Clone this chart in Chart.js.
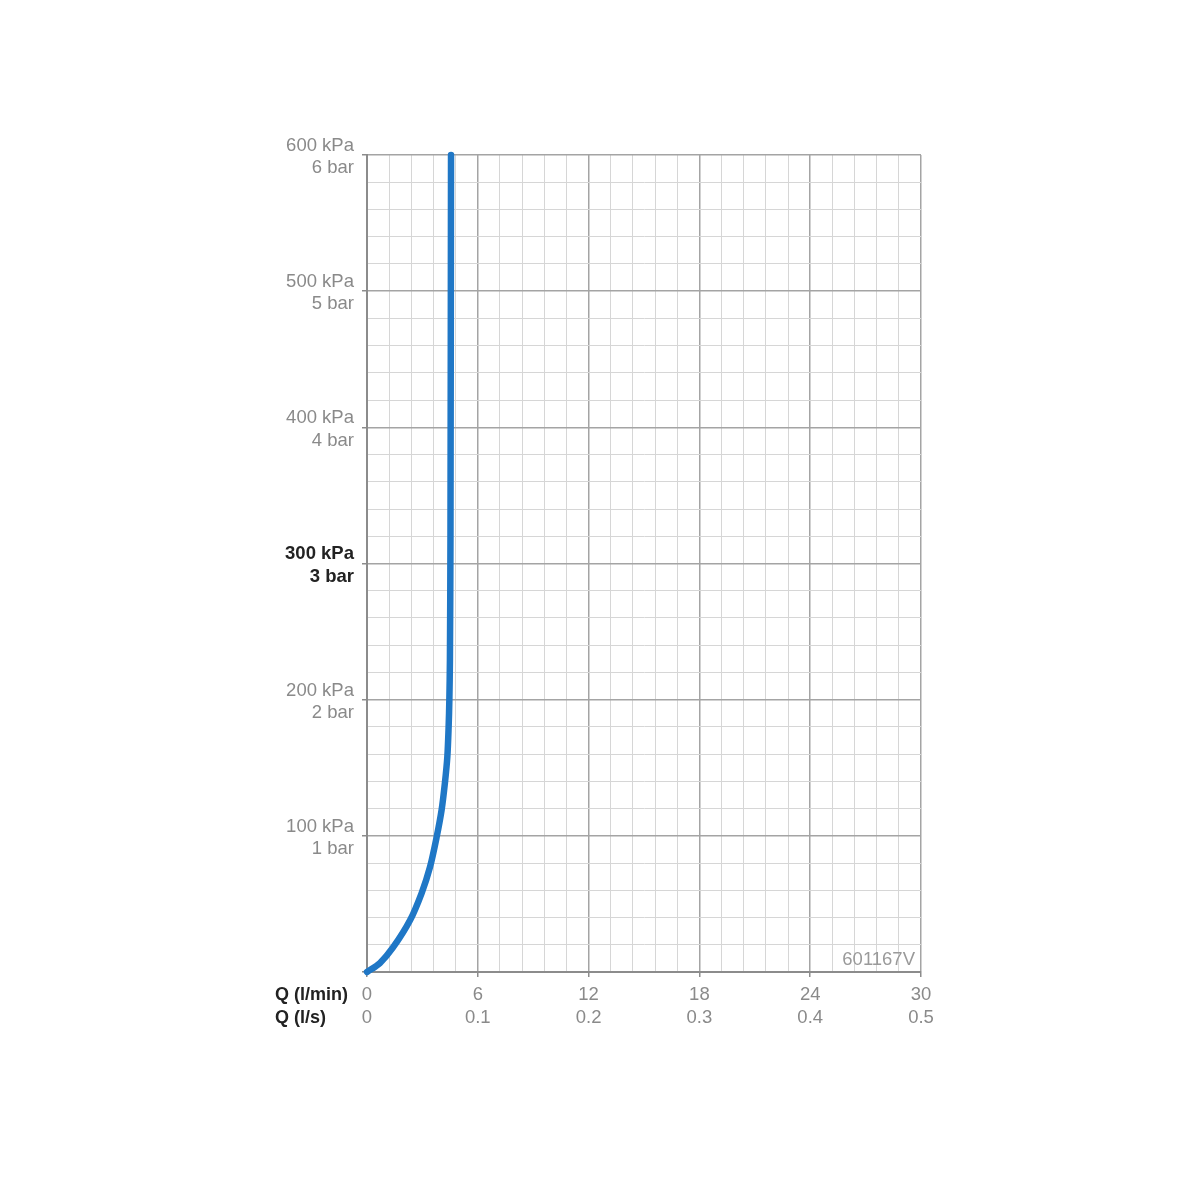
<!DOCTYPE html>
<html>
<head>
<meta charset="utf-8">
<script src="https://cdn.jsdelivr.net/npm/chart.js@4/dist/chart.umd.min.js"></script>
<style>
html,body{margin:0;padding:0;background:#fff;}
#wrap{width:1200px;height:1200px;}
</style>
</head>
<body>
<div id="wrap"><canvas id="c" width="1200" height="1200"></canvas></div>
<script>
// Flow curve: Q (l/min) vs pressure (kPa)
const flowLpm = [0, 0.7, 1.41, 2.33, 2.96, 3.41, 3.77, 4.04, 4.22, 4.35, 4.42, 4.46, 4.49, 4.52, 4.55];
const pressureKPa = [0, 6.6, 18, 38, 58, 77, 99, 119, 139, 158, 180, 200, 229, 320, 600];

// Axis ticks
const xMajorLpm = [0, 6, 12, 18, 24, 30];
const xMajorLps = ['0', '0.1', '0.2', '0.3', '0.4', '0.5'];
const xMinorDivisions = 5;
const yMajorKPa = [0, 100, 200, 300, 400, 500, 600];
const yMajorBar = ['0', '1', '2', '3', '4', '5', '6'];
const yMinorDivisions = 5;
const highlightKPa = 300;
const xAxisNames = ['Q (l/min)', 'Q (l/s)'];
const codeLabel = '601167V';

const FONT = '"Liberation Sans", Arial, sans-serif';
const eq = (a, b) => Math.abs(a - b) < 1e-6;

function buildTicks(majors, divs) {
  const out = [];
  for (let i = 0; i < majors.length - 1; i++) {
    const a = majors[i], b = majors[i + 1];
    for (let k = 0; k < divs; k++) out.push({value: Math.round((a + (b - a) * k / divs) * 1000) / 1000});
  }
  out.push({value: majors[majors.length - 1]});
  return out;
}
const tv = c => (c && c.tick) ? c.tick.value : NaN;
const isMajorX = c => xMajorLpm.some(m => eq(m, tv(c)));
const isMajorY = c => yMajorKPa.some(m => eq(m, tv(c)));

const extraText = {
  id: 'extraText',
  afterDraw(chart) {
    const ctx = chart.ctx, ca = chart.chartArea;
    ctx.save();
    ctx.font = 'bold 18px ' + FONT;
    ctx.fillStyle = '#222';
    ctx.textAlign = 'right';
    ctx.textBaseline = 'middle';
    ctx.fillText(xAxisNames[0], ca.left - 19, ca.bottom + 23);
    ctx.fillText(xAxisNames[1], ca.left - 41, ca.bottom + 46);
    ctx.font = '18.5px ' + FONT;
    ctx.fillStyle = '#9a9a9a';
    ctx.fillText(codeLabel, ca.right - 6, ca.bottom - 12);
    ctx.restore();
  }
};

new Chart(document.getElementById('c'), {
  type: 'line',
  data: {
    datasets: [{
      data: flowLpm.map((q, i) => ({x: q, y: pressureKPa[i]})),
      borderColor: '#1f77c6',
      borderWidth: 6.5,
      pointRadius: 0,
      tension: 0.3,
      borderCapStyle: 'round',
      fill: false,
      clip: false
    }]
  },
  options: {
    responsive: false,
    animation: false,
    events: [],
    layout: {padding: {top: 155, right: 279, left: 0, bottom: 0}},
    plugins: {legend: {display: false}, tooltip: {enabled: false}},
    scales: {
      x: {
        type: 'linear',
        min: 0, max: 30,
        afterFit: s => { s.height = 228; },
        afterBuildTicks: s => { s.ticks = buildTicks(xMajorLpm, xMinorDivisions); },
        border: {color: '#8c8c8c', width: 2},
        grid: {
          color: c => isMajorX(c) ? '#a4a4a4' : '#d6d6d6',
          lineWidth: c => isMajorX(c) ? 1.5 : 1,
          tickLength: 5,
          tickColor: c => isMajorX(c) ? '#8c8c8c' : 'rgba(0,0,0,0)'
        },
        ticks: {
          autoSkip: false,
          maxRotation: 0,
          padding: 6,
          color: '#8a8a8a',
          font: {family: FONT, size: 18.5, lineHeight: 1.25},
          callback: v => {
            const i = xMajorLpm.findIndex(m => eq(m, v));
            return i < 0 ? '' : [String(xMajorLpm[i]), xMajorLps[i]];
          }
        }
      },
      y: {
        type: 'linear',
        min: 0, max: 600,
        afterFit: s => { s.width = 367; },
        afterBuildTicks: s => { s.ticks = buildTicks(yMajorKPa, yMinorDivisions); },
        border: {color: '#8c8c8c', width: 2},
        grid: {
          color: c => isMajorY(c) ? '#a4a4a4' : '#d6d6d6',
          lineWidth: c => isMajorY(c) ? 1.5 : 1,
          tickLength: 5,
          tickColor: c => isMajorY(c) ? '#8c8c8c' : 'rgba(0,0,0,0)'
        },
        ticks: {
          autoSkip: false,
          padding: 8,
          labelOffset: 2,
          color: c => eq(tv(c), highlightKPa) ? '#222' : '#8a8a8a',
          font: c => ({family: FONT, size: 18.5, lineHeight: 1.2, weight: eq(tv(c), highlightKPa) ? 'bold' : 'normal'}),
          callback: v => {
            const i = yMajorKPa.findIndex(m => eq(m, v));
            if (i <= 0) return '';
            return [yMajorKPa[i] + ' kPa', yMajorBar[i] + ' bar'];
          }
        }
      }
    }
  },
  plugins: [extraText]
});
</script>
</body>
</html>
